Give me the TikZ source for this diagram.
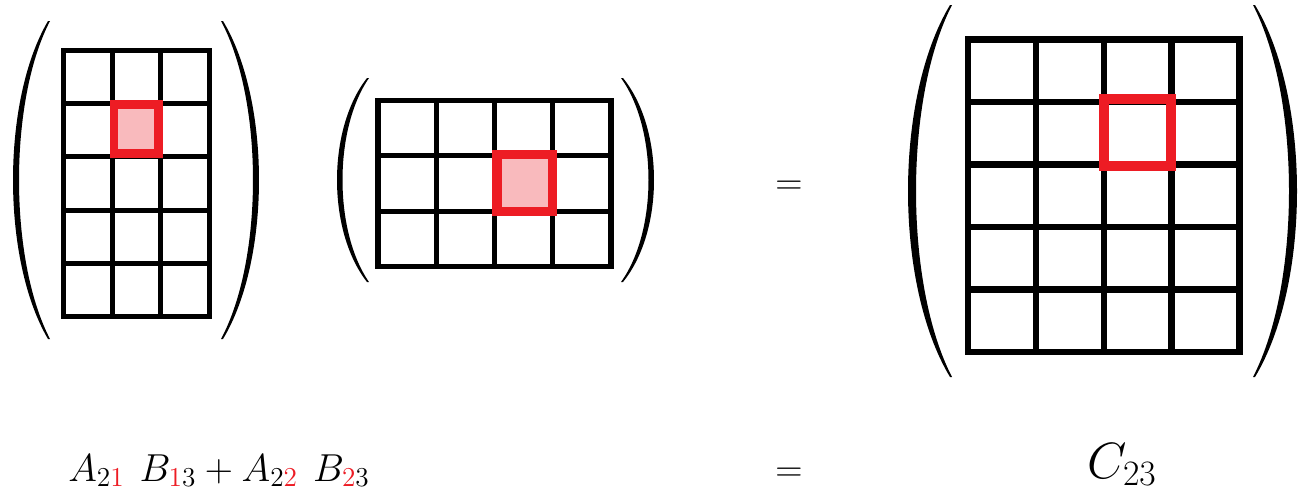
\RequirePackage{fix-cm}
\documentclass[tikz,border=0pt]{standalone}
\usepackage{amsmath}
\usepackage{xcolor}
\definecolor{hlred}{RGB}{237, 28, 36}
\definecolor{hlpink}{RGB}{249, 186, 189}

\begin{document}
\begin{tikzpicture}[x=0.02cm, y=-0.02cm,
    every node/.style={inner sep=0pt, anchor=base, font=\fontsize{21.5}{26}\selectfont},
    cellline/.style={draw=black, line width=#1},
    hlcell/.style={draw=hlred, line width=#1}]
\useasboundingbox (0,0) rectangle (1301,491);

% Parentheses: end x / middle x / top / bottom / side / thickness
\foreach \xe/\xm/\yt/\yb/\dir/\w in {48/13/21/339/1/6, 223/259/21/339/-1/6,
        367/337/78/282/1/5.5, 623/654/78/282/-1/5.5,
        950/908/5/377/1/8, 1255/1297/5/377/-1/8} {
    \fill[black] (\xe,\yt)
        .. controls ({\xe+1.333*(\xm-\xe)},{\yt+0.25*(\yb-\yt)}) and ({\xe+1.333*(\xm-\xe)},{\yt+0.75*(\yb-\yt)}) .. (\xe,\yb)
        -- ({\xe+(\dir)*2},\yb)
        .. controls ({\xe+(\dir)*2+1.333*(\xm+(\dir)*\w-\xe-(\dir)*2)},{\yt+0.75*(\yb-\yt)}) and ({\xe+(\dir)*2+1.333*(\xm+(\dir)*\w-\xe-(\dir)*2)},{\yt+0.25*(\yb-\yt)}) .. ({\xe+(\dir)*2},\yt)
        -- cycle;
}

% Matrix A: 5 rows x 3 columns
\begin{scope}
    \draw[cellline=2.85pt] (63.7,50) rectangle (209.3,316.7);
    \foreach \i in {1,2}
        \draw[cellline=2.85pt] ({63.7+\i*48.53},50) -- ({63.7+\i*48.53},316.7);
    \foreach \j in {1,...,4}
        \draw[cellline=2.85pt] (63.7,{50+\j*53.34}) -- (209.3,{50+\j*53.34});
    % entry (2,1)
    \draw[hlcell=4.8pt, fill=hlpink] (114.2,104.7) rectangle (158.5,153.3);
\end{scope}

% Matrix B: 3 rows x 4 columns
\begin{scope}
    \draw[cellline=3pt] (378,100.3) rectangle (611,266.7);
    \foreach \i in {1,2,3}
        \draw[cellline=3pt] ({378+\i*58.25},100.3) -- ({378+\i*58.25},266.7);
    \foreach \j in {1,2}
        \draw[cellline=3pt] (378,{100.3+\j*55.47}) -- (611,{100.3+\j*55.47});
    % entry (1,3)
    \draw[hlcell=5.3pt, fill=hlpink] (497,154.7) rectangle (552.8,211.2);
\end{scope}

% Matrix C: 5 rows x 4 columns
\begin{scope}
    \draw[cellline=3.6pt] (968,39.5) rectangle (1239.5,352);
    \foreach \i in {1,2,3}
        \draw[cellline=3.6pt] ({968+\i*67.88},39.5) -- ({968+\i*67.88},352);
    \foreach \j in {1,...,4}
        \draw[cellline=3.6pt] (968,{39.5+\j*62.5}) -- (1239.5,{39.5+\j*62.5});
    % entry (2,3)
    \draw[hlcell=5.9pt] (1104.2,99.2) rectangle (1171,166.2);
\end{scope}

% Equations
\node (eqtop) at (789,194) {$=$};
\node[font=\fontsize{22.2}{27}\selectfont] (lhs) at (219,481) {$A_{2\textcolor{hlred}{1}}\mkern7mu B_{\textcolor{hlred}{1}3}+A_{2\textcolor{hlred}{2}}\mkern7mu B_{\textcolor{hlred}{2}3}$};
\node (eqbot) at (789,481) {$=$};
\node[font=\fontsize{29}{34}\selectfont] (rhs) at (1122,478) {$C_{23}$};
\end{tikzpicture}
\end{document}
